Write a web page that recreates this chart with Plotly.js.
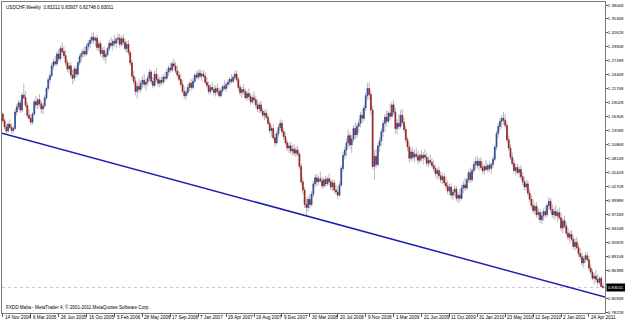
<!DOCTYPE html>
<html><head><meta charset="utf-8">
<script src="https://cdn.plot.ly/plotly-3.0.1.min.js"></script>
<style>html,body{margin:0;padding:0;background:#fff;overflow:hidden;} #chart{width:625px;height:320px;}</style>
</head><body><div id="chart"></div>
<script>
const symbol = 'USDCHF,Weekly';
const footer = 'FXDD Malta - MetaTrader 4, \u00a9 2001-2011 MetaQuotes Software Corp.';
const tickLabels = ['14 Nov 2004','6 Mar 2005','26 Jun 2005','16 Oct 2005','5 Feb 2006','28 May 2006','17 Sep 2006','7 Jan 2007','29 Apr 2007','19 Aug 2007','9 Dec 2007','30 Mar 2008','20 Jul 2008','9 Nov 2008','1 Mar 2009','21 Jun 2009','11 Oct 2009','31 Jan 2010','23 May 2010','12 Sep 2010','2 Jan 2011','24 Apr 2011'];
const yTicks = [0.78228,0.80948,0.83668,0.86388,0.89108,0.91828,0.94548,0.97268,0.99988,1.02708,1.05428,1.08148,1.10868,1.13588,1.16308,1.19028,1.21748,1.24468,1.27188,1.29908,1.32628,1.35348,1.38068];

const opens = [
1.168,1.155,1.143,1.135,1.148,1.142,1.136,1.140,1.172,1.182,1.190,1.176,1.205,1.200,1.185,1.166,
1.160,1.152,1.168,1.192,1.186,1.196,1.188,1.178,1.184,1.200,1.218,1.235,1.243,1.262,1.270,1.266,
1.285,1.276,1.296,1.290,1.282,1.268,1.256,1.262,1.244,1.238,1.256,1.246,1.268,1.280,1.286,1.290,
1.285,1.300,1.306,1.312,1.318,1.312,1.316,1.298,1.305,1.286,1.292,1.280,1.284,1.296,1.306,1.302,
1.310,1.306,1.314,1.316,1.304,1.315,1.308,1.296,1.304,1.288,1.268,1.242,1.232,1.212,1.222,1.216,
1.228,1.234,1.226,1.230,1.238,1.250,1.232,1.224,1.246,1.236,1.228,1.234,1.230,1.240,1.238,1.250,
1.258,1.254,1.266,1.262,1.252,1.244,1.236,1.226,1.212,1.204,1.210,1.220,1.228,1.220,1.232,1.244,
1.240,1.248,1.242,1.246,1.242,1.230,1.224,1.212,1.220,1.216,1.210,1.218,1.212,1.204,1.214,1.222,
1.218,1.226,1.230,1.236,1.232,1.240,1.246,1.236,1.220,1.210,1.216,1.212,1.200,1.208,1.202,1.192,
1.200,1.196,1.186,1.178,1.186,1.174,1.166,1.170,1.162,1.150,1.136,1.140,1.122,1.112,1.130,1.142,
1.150,1.134,1.124,1.112,1.102,1.106,1.096,1.100,1.092,1.098,1.090,1.066,1.036,1.020,0.992,0.986,
1.002,0.992,1.012,1.032,1.044,1.036,1.042,1.038,1.028,1.040,1.032,1.042,1.036,1.026,1.034,1.020,
1.016,1.010,1.030,1.062,1.088,1.098,1.112,1.126,1.108,1.120,1.140,1.128,1.144,1.150,1.166,1.160,
1.180,1.204,1.218,1.206,1.176,1.066,1.086,1.070,1.106,1.116,1.134,1.150,1.162,1.154,1.170,1.164,
1.186,1.172,1.140,1.150,1.144,1.166,1.152,1.138,1.118,1.104,1.082,1.094,1.084,1.090,1.086,1.078,
1.088,1.082,1.088,1.084,1.072,1.078,1.074,1.068,1.062,1.052,1.058,1.048,1.040,1.046,1.034,1.028,
1.018,1.026,1.010,1.016,1.022,1.004,1.010,1.004,1.024,1.030,1.024,1.040,1.054,1.040,1.058,1.070,
1.076,1.068,1.076,1.064,1.058,1.066,1.060,1.068,1.062,1.070,1.080,1.104,1.130,1.144,1.154,1.160,
1.156,1.146,1.118,1.102,1.084,1.072,1.058,1.064,1.054,1.060,1.046,1.036,1.026,1.032,1.014,1.002,
0.990,0.980,0.988,0.972,0.976,0.962,0.970,0.978,0.972,0.990,0.998,0.982,0.972,0.978,0.970,0.976,
0.966,0.946,0.960,0.950,0.936,0.928,0.934,0.924,0.910,0.918,0.908,0.896,0.890,0.878,0.886,0.892,
0.884,0.868,0.860,0.848,0.852,0.846,0.840,0.848,0.83212];
const highs = [
1.172,1.160,1.150,1.152,1.158,1.149,1.145,1.178,1.188,1.195,1.196,1.210,1.228,1.212,1.192,1.178,
1.168,1.172,1.196,1.203,1.200,1.207,1.194,1.190,1.205,1.222,1.240,1.248,1.268,1.276,1.282,1.290,
1.295,1.302,1.308,1.300,1.292,1.275,1.270,1.268,1.254,1.262,1.262,1.272,1.285,1.292,1.296,1.300,
1.306,1.312,1.318,1.326,1.328,1.320,1.322,1.312,1.310,1.298,1.300,1.290,1.300,1.312,1.318,1.314,
1.322,1.318,1.326,1.324,1.320,1.324,1.316,1.310,1.312,1.292,1.274,1.252,1.240,1.228,1.236,1.234,
1.242,1.246,1.236,1.244,1.256,1.254,1.240,1.252,1.258,1.244,1.240,1.242,1.246,1.250,1.256,1.262,
1.268,1.272,1.276,1.270,1.262,1.252,1.246,1.234,1.222,1.216,1.226,1.232,1.236,1.238,1.248,1.252,
1.254,1.256,1.252,1.254,1.250,1.240,1.232,1.226,1.230,1.224,1.224,1.228,1.220,1.218,1.226,1.234,
1.230,1.236,1.240,1.246,1.244,1.252,1.254,1.240,1.226,1.222,1.226,1.218,1.214,1.218,1.210,1.206,
1.212,1.204,1.196,1.192,1.194,1.180,1.176,1.178,1.168,1.156,1.146,1.148,1.130,1.136,1.148,1.158,
1.156,1.140,1.132,1.118,1.112,1.114,1.108,1.110,1.104,1.106,1.094,1.072,1.044,1.026,1.004,1.008,
1.012,1.018,1.038,1.050,1.052,1.048,1.056,1.046,1.044,1.048,1.046,1.052,1.042,1.040,1.040,1.030,
1.026,1.036,1.068,1.094,1.104,1.120,1.138,1.132,1.128,1.146,1.152,1.150,1.158,1.172,1.178,1.186,
1.210,1.229,1.230,1.214,1.184,1.098,1.100,1.112,1.124,1.140,1.156,1.168,1.176,1.174,1.188,1.192,
1.196,1.180,1.158,1.168,1.176,1.178,1.162,1.146,1.124,1.112,1.100,1.104,1.098,1.102,1.096,1.092,
1.098,1.094,1.100,1.092,1.086,1.090,1.082,1.078,1.068,1.064,1.066,1.056,1.054,1.052,1.046,1.038,
1.032,1.034,1.022,1.030,1.028,1.016,1.022,1.030,1.038,1.044,1.044,1.060,1.064,1.062,1.076,1.084,
1.086,1.082,1.084,1.074,1.070,1.078,1.072,1.076,1.074,1.086,1.108,1.136,1.150,1.160,1.166,1.172,
1.168,1.152,1.126,1.110,1.094,1.080,1.070,1.072,1.066,1.068,1.054,1.046,1.040,1.038,1.022,1.010,
1.002,0.994,0.996,0.984,0.982,0.978,0.984,0.988,0.994,1.006,1.004,0.992,0.986,0.990,0.982,0.986,
0.976,0.966,0.970,0.958,0.946,0.940,0.942,0.932,0.926,0.928,0.916,0.906,0.898,0.892,0.898,0.900,
0.892,0.876,0.866,0.858,0.864,0.856,0.852,0.852,0.83937];
const lows = [
1.150,1.138,1.131,1.132,1.139,1.130,1.131,1.138,1.165,1.176,1.170,1.172,1.196,1.180,1.160,1.155,
1.146,1.148,1.165,1.180,1.178,1.182,1.170,1.168,1.180,1.196,1.212,1.228,1.240,1.255,1.262,1.262,
1.270,1.272,1.285,1.276,1.262,1.250,1.248,1.238,1.226,1.232,1.240,1.242,1.262,1.270,1.278,1.280,
1.282,1.292,1.296,1.304,1.306,1.300,1.292,1.290,1.280,1.276,1.272,1.266,1.280,1.290,1.298,1.292,
1.300,1.296,1.306,1.298,1.300,1.302,1.290,1.288,1.282,1.262,1.236,1.226,1.205,1.198,1.210,1.210,
1.218,1.220,1.214,1.222,1.232,1.226,1.218,1.220,1.230,1.222,1.220,1.224,1.226,1.232,1.234,1.242,
1.248,1.250,1.256,1.248,1.240,1.232,1.222,1.208,1.198,1.196,1.204,1.212,1.214,1.216,1.228,1.236,
1.234,1.238,1.232,1.238,1.226,1.218,1.206,1.206,1.212,1.204,1.202,1.206,1.200,1.200,1.208,1.214,
1.212,1.218,1.224,1.228,1.228,1.234,1.230,1.214,1.204,1.200,1.206,1.196,1.194,1.196,1.186,1.188,
1.190,1.180,1.172,1.170,1.170,1.160,1.156,1.158,1.146,1.130,1.124,1.118,1.104,1.108,1.124,1.136,
1.128,1.118,1.108,1.096,1.092,1.090,1.088,1.086,1.084,1.086,1.060,1.030,1.012,0.985,0.970,0.978,
0.984,0.988,1.006,1.026,1.028,1.030,1.034,1.022,1.024,1.026,1.028,1.030,1.020,1.018,1.014,1.010,
1.002,1.006,1.026,1.056,1.080,1.086,1.104,1.100,1.092,1.114,1.118,1.122,1.132,1.142,1.150,1.154,
1.174,1.196,1.196,1.166,1.060,1.040,1.062,1.066,1.094,1.106,1.124,1.134,1.144,1.150,1.156,1.160,
1.166,1.130,1.128,1.138,1.140,1.146,1.132,1.112,1.096,1.074,1.076,1.078,1.074,1.080,1.070,1.072,
1.076,1.070,1.078,1.066,1.064,1.068,1.062,1.056,1.046,1.040,1.044,1.034,1.032,1.028,1.022,1.012,
1.010,1.004,1.000,1.008,0.998,0.994,0.998,1.000,1.014,1.018,1.020,1.034,1.034,1.036,1.052,1.060,
1.062,1.058,1.060,1.052,1.050,1.058,1.054,1.056,1.052,1.064,1.076,1.098,1.122,1.136,1.140,1.148,
1.140,1.112,1.096,1.078,1.066,1.052,1.048,1.050,1.044,1.040,1.030,1.020,1.018,1.008,0.996,0.984,
0.974,0.972,0.966,0.962,0.956,0.954,0.960,0.966,0.968,0.982,0.976,0.966,0.962,0.966,0.958,0.962,
0.940,0.936,0.944,0.930,0.922,0.916,0.920,0.904,0.902,0.904,0.890,0.884,0.872,0.868,0.878,0.880,
0.862,0.854,0.844,0.836,0.840,0.834,0.836,0.830,0.82748];
const closes = [
1.155,1.143,1.135,1.148,1.142,1.136,1.140,1.172,1.182,1.190,1.176,1.205,1.200,1.185,1.166,1.160,
1.152,1.168,1.192,1.186,1.196,1.188,1.178,1.184,1.200,1.218,1.235,1.243,1.262,1.270,1.266,1.285,
1.276,1.296,1.290,1.282,1.268,1.256,1.262,1.244,1.238,1.256,1.246,1.268,1.280,1.286,1.290,1.285,
1.300,1.306,1.312,1.318,1.312,1.316,1.298,1.305,1.286,1.292,1.280,1.284,1.296,1.306,1.302,1.310,
1.306,1.314,1.316,1.304,1.315,1.308,1.296,1.304,1.288,1.268,1.242,1.232,1.212,1.222,1.216,1.228,
1.234,1.226,1.230,1.238,1.250,1.232,1.224,1.246,1.236,1.228,1.234,1.230,1.240,1.238,1.250,1.258,
1.254,1.266,1.262,1.252,1.244,1.236,1.226,1.212,1.204,1.210,1.220,1.228,1.220,1.232,1.244,1.240,
1.248,1.242,1.246,1.242,1.230,1.224,1.212,1.220,1.216,1.210,1.218,1.212,1.204,1.214,1.222,1.218,
1.226,1.230,1.236,1.232,1.240,1.246,1.236,1.220,1.210,1.216,1.212,1.200,1.208,1.202,1.192,1.200,
1.196,1.186,1.178,1.186,1.174,1.166,1.170,1.162,1.150,1.136,1.140,1.122,1.112,1.130,1.142,1.150,
1.134,1.124,1.112,1.102,1.106,1.096,1.100,1.092,1.098,1.090,1.066,1.036,1.020,0.992,0.986,1.002,
0.992,1.012,1.032,1.044,1.036,1.042,1.038,1.028,1.040,1.032,1.042,1.036,1.026,1.034,1.020,1.016,
1.010,1.030,1.062,1.088,1.098,1.112,1.126,1.108,1.120,1.140,1.128,1.144,1.150,1.166,1.160,1.180,
1.204,1.218,1.206,1.176,1.066,1.086,1.070,1.106,1.116,1.134,1.150,1.162,1.154,1.170,1.164,1.186,
1.172,1.140,1.150,1.144,1.166,1.152,1.138,1.118,1.104,1.082,1.094,1.084,1.090,1.086,1.078,1.088,
1.082,1.088,1.084,1.072,1.078,1.074,1.068,1.062,1.052,1.058,1.048,1.040,1.046,1.034,1.028,1.018,
1.026,1.010,1.016,1.022,1.004,1.010,1.004,1.024,1.030,1.024,1.040,1.054,1.040,1.058,1.070,1.076,
1.068,1.076,1.064,1.058,1.066,1.060,1.068,1.062,1.070,1.080,1.104,1.130,1.144,1.154,1.160,1.156,
1.146,1.118,1.102,1.084,1.072,1.058,1.064,1.054,1.060,1.046,1.036,1.026,1.032,1.014,1.002,0.990,
0.980,0.988,0.972,0.976,0.962,0.970,0.978,0.972,0.990,0.998,0.982,0.972,0.978,0.970,0.976,0.966,
0.946,0.960,0.950,0.936,0.928,0.934,0.924,0.910,0.918,0.908,0.896,0.890,0.878,0.886,0.892,0.884,
0.868,0.860,0.848,0.852,0.846,0.840,0.848,0.832,0.83011];

// Trend line drawn on the chart (two anchor points: bar index, price)
const trendBars = [-0.5, 345.2];
const trendPrices = [1.131, 0.8113];

const bars = opens.map((_, i) => i);
const last = bars.length - 1;
const bid = closes[last];
const header = symbol + '  ' + [opens[last], highs[last], lows[last], closes[last]].map(v => v.toFixed(5)).join(' ');
const tickVals = tickLabels.map((_, i) => i * 16);
// the bid label box covers the price tick nearest to it, as in the terminal
const yTickText = yTicks.map(v => Math.abs(v - bid) < 0.012 ? '' : v.toFixed(5));
const bodyTop = opens.map((o, i) => Math.max(o, closes[i]));
const bodyBot = opens.map((o, i) => Math.min(o, closes[i]));

const fnt = {family: 'Liberation Sans, Arial, sans-serif', size: 4.6, color: '#000'};
const yFnt = {family: 'Liberation Sans, Arial, sans-serif', size: 4.3, color: '#000'};

const traces = [
  { // wicks
    type: 'candlestick', x: bars, open: opens, high: highs, low: lows, close: closes,
    increasing: {line: {color: '#9a9a9a', width: 0.7}, fillcolor: '#9a9a9a'},
    decreasing: {line: {color: '#9a9a9a', width: 0.7}, fillcolor: '#9a9a9a'},
    whiskerwidth: 0, hoverinfo: 'skip', showlegend: false
  },
  { // coloured bodies
    type: 'candlestick', x: bars, open: opens, high: bodyTop, low: bodyBot, close: closes,
    increasing: {line: {color: '#2a49a0', width: 0.5}, fillcolor: '#2a49a0'},
    decreasing: {line: {color: '#a01818', width: 0.5}, fillcolor: '#a01818'},
    whiskerwidth: 0, hoverinfo: 'skip', showlegend: false
  },
  {
    type: 'scatter', mode: 'lines', x: trendBars, y: trendPrices,
    line: {color: '#1e1eb4', width: 1.5}, hoverinfo: 'skip', showlegend: false
  }
];

// date labels sit just right of their tick, under the axis line
const dateAnnotations = tickLabels.map((t, i) => ({
  xref: 'x', yref: 'paper', x: tickVals[i], y: 0, xanchor: 'left', yanchor: 'top',
  xshift: 1, yshift: -0.5, text: t, showarrow: false, font: fnt, borderpad: 0
}));

const layout = {
  width: 625, height: 320,
  margin: {l: 2, r: 20, t: 2, b: 7, pad: 0},
  paper_bgcolor: '#fff', plot_bgcolor: '#fff',
  showlegend: false,
  font: fnt,
  xaxis: {
    range: [-0.5, 345.2], tickmode: 'array', tickvals: tickVals, showticklabels: false,
    showgrid: false, zeroline: false, showline: true, mirror: true,
    linecolor: '#7a7a7a', linewidth: 1, ticks: 'outside', ticklen: 3, tickcolor: '#555',
    rangeslider: {visible: false}, fixedrange: true
  },
  yaxis: {
    side: 'right', range: [0.78033, 1.38653], tickmode: 'array', tickvals: yTicks,
    ticktext: yTickText, ticks: 'outside', ticklen: 2, tickcolor: '#555',
    ticklabelstandoff: -1,
    showgrid: false, zeroline: false, showline: true, mirror: true,
    linecolor: '#7a7a7a', linewidth: 1, tickfont: yFnt, fixedrange: true
  },
  shapes: [
    {type: 'line', xref: 'paper', x0: 0, x1: 1, yref: 'y', y0: bid, y1: bid,
     line: {color: '#c8c8c8', width: 1, dash: 'dot'}, layer: 'below'}
  ],
  annotations: [
    {xref: 'paper', yref: 'paper', x: 0, y: 1, xanchor: 'left', yanchor: 'top',
     xshift: 2, yshift: -1, text: header, showarrow: false, font: fnt},
    {xref: 'paper', yref: 'paper', x: 0, y: 0, xanchor: 'left', yanchor: 'bottom',
     xshift: 2, yshift: 1, text: footer, showarrow: false, font: fnt},
    {xref: 'paper', yref: 'y', x: 1, y: bid, xanchor: 'left', yanchor: 'middle',
     xshift: 1, text: bid.toFixed(5), showarrow: false, bgcolor: '#000',
     font: {family: fnt.family, size: 4.3, color: '#fff'}, borderpad: 1}
  ].concat(dateAnnotations)
};

Plotly.newPlot('chart', traces, layout, {staticPlot: true, displayModeBar: false});
</script>
</body></html>
